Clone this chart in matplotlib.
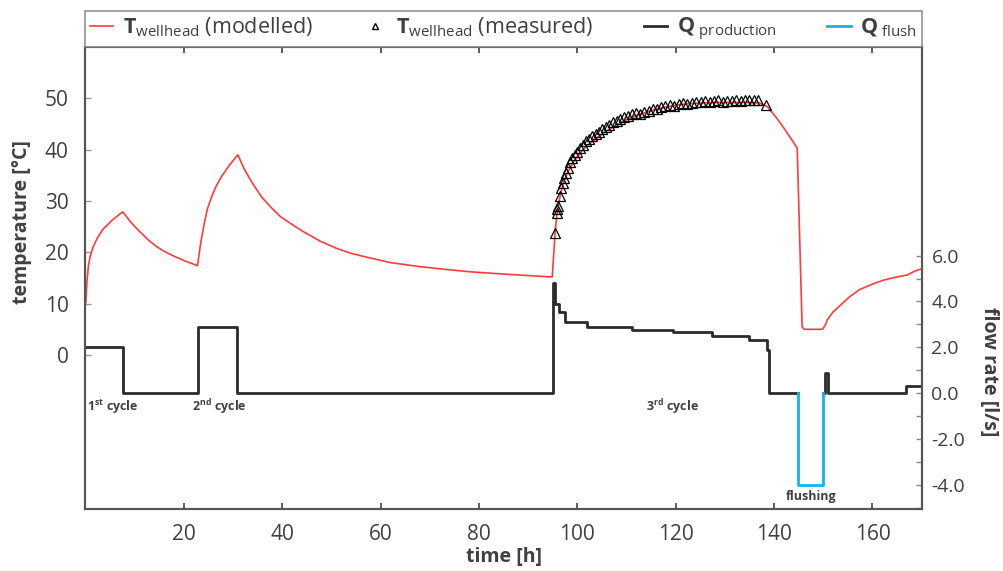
import matplotlib
matplotlib.use("Agg")
import matplotlib.pyplot as plt
import numpy as np
from matplotlib.lines import Line2D

plt.rcParams['font.family'] = ['Open Sans', 'DejaVu Sans']
plt.rcParams['mathtext.fontset'] = 'custom'
plt.rcParams['mathtext.rm'] = 'Open Sans'
plt.rcParams['mathtext.bf'] = 'Open Sans:bold'
plt.rcParams['mathtext.it'] = 'Open Sans:italic'

# modelled wellhead temperature [°C]
t_model = [0.1, 0.3, 0.6, 1.0, 1.6, 2.5, 3.6, 5.5, 7.6, 9.3, 11.1, 12.8, 14.5, 16.2,
           17.9, 20.3, 22.8, 23.4, 24.1, 24.8, 25.7, 26.6, 27.7, 29.3, 31.0,
           32.2, 33.5, 34.7, 35.9, 37.6, 39.6, 41.6, 44.0, 47.7, 51.0, 54.0, 57.9,
           62.0, 68.1, 73.0, 78.3, 86.0, 94.9,
           95.3, 95.5, 95.8, 96.2, 96.7, 97.3, 98.0, 99.0, 100.0, 101.5, 103.0, 105.0,
           107.0, 109.0, 111.0, 113.0, 115.0, 117.0, 119.0, 121.0, 123.0, 125.0,
           128.0, 131.0, 134.0, 137.0, 138.6, 140.5, 142.0, 143.4, 144.7, 145.7, 146.1,
           149.8, 150.4, 150.8, 152.0, 153.5, 155.3, 157.3, 160.0, 162.3, 164.5, 167.1,
           168.5, 170.0]
T_model = [10.2, 14.0, 17.2, 19.3, 21.1, 22.9, 24.5, 26.3, 27.9, 25.8, 24.0, 22.4, 21.1,
           20.1, 19.3, 18.3, 17.4, 21.5, 25.3, 28.4, 30.9, 32.9, 34.8, 37.0, 39.0,
           36.4, 34.2, 32.4, 30.7, 28.9, 27.0, 25.7, 24.2, 22.2, 20.8, 19.8, 18.9,
           18.0, 17.2, 16.7, 16.2, 15.7, 15.2,
           21.0, 24.0, 27.0, 29.5, 31.8, 33.8, 35.5, 37.3, 38.7, 40.3, 41.6, 43.0,
           44.3, 45.4, 46.3, 47.0, 47.6, 48.1, 48.5, 48.8, 49.0, 49.1,
           49.2, 49.2, 49.2, 49.1, 48.4, 46.2, 44.2, 42.2, 40.3, 5.5, 5.0,
           5.0, 5.8, 6.8, 8.4, 9.7, 11.3, 12.7, 13.8, 14.6, 15.1, 15.6,
           16.3, 16.8]

# measured wellhead temperature [°C]
t_meas = [95.5, 95.8, 95.9, 96.1, 96.4, 96.7, 97.0, 97.3, 97.7, 98.1, 98.6, 99.0, 99.5,
          100.0, 100.6, 101.2, 101.8, 102.4, 103.0, 103.7, 104.4, 105.1, 105.8, 106.5,
          107.2, 108.0, 108.7, 109.5, 110.3, 111.1, 111.9, 112.8, 113.6, 114.5, 115.3,
          116.2, 117.0, 117.9, 118.8, 119.7, 120.6, 121.5, 122.4, 123.3, 124.2, 125.1,
          126.0, 126.9, 127.8, 128.7, 129.6, 130.5, 131.4, 132.3, 133.2, 134.1, 135.0,
          135.9, 136.7, 138.4]
T_meas = [23.7, 27.6, 28.5, 29.0, 31.0, 32.5, 33.5, 34.5, 35.5, 36.5, 37.5, 38.3, 39.0,
          39.6, 40.4, 41.0, 41.6, 42.1, 42.6, 43.0, 43.5, 44.0, 44.4, 44.9,
          45.3, 45.6, 46.0, 46.3, 46.6, 46.9, 47.2, 47.0, 47.4, 47.6, 48.0,
          47.9, 48.3, 48.5, 48.7, 48.6, 48.9, 49.0, 48.8, 49.1, 49.3, 49.2,
          49.5, 49.3, 49.4, 49.6, 49.3, 49.5, 49.4, 49.6, 49.5, 49.6, 49.7,
          49.6, 49.6, 48.7]

# production flow rate [l/s] (step changes)
t_prod = [0, 7.7, 22.9, 30.8, 95.0, 95.5, 96.2, 97.6, 102.0, 111.1, 119.5, 127.3,
          134.9, 138.6, 139.0, 144.9, 150.0, 150.4, 151.0, 166.9, 170.0]
Q_prod = [2.0, 0.0, 2.9, 0.0, 4.8, 3.9, 3.55, 3.1, 2.9, 2.75, 2.65, 2.5,
          2.3, 1.9, 0.0, np.nan, 0.0, 0.9, 0.0, 0.3, 0.3]

# flushing flow rate [l/s]
t_flush = [144.9, 144.9, 150.0]
Q_flush = [0.0, -4.0, 0.0]

red = '#ff3b3b'
blue = '#12b4ee'
dark = '#2b2b2b'
grey = '#404040'

fig = plt.figure(figsize=(10.04, 5.71), dpi=100)
ax1 = fig.add_axes([0.085, 0.1086, 0.833, 0.8091])
ax2 = ax1.twinx()

ax1.plot(t_model, T_model, color=red, lw=1.2, zorder=3)
ax1.plot(t_meas, T_meas, ls='none', marker='^', ms=6.5, mfc='none', mec='black',
         mew=0.9, zorder=4)

ax2.step(t_prod, Q_prod, where='post', color=dark, lw=2.0)
ax2.step(t_flush, Q_flush, where='post', color=blue, lw=2.0)

ax1.set_xlim(0, 170)
ax1.set_ylim(-30, 60)
ax1.set_yticks([0, 10, 20, 30, 40, 50])
ax1.set_xticks([20, 40, 60, 80, 100, 120, 140, 160])
ax2.set_ylim(-5.05, 15.1)
ax2.set_yticks([-4, -2, 0, 2, 4, 6])
ax2.set_yticks([-5, -3, -1, 1, 3, 5], minor=True)
ax2.set_yticklabels(['%.1f' % v for v in [-4, -2, 0, 2, 4, 6]])

ax1.tick_params(axis='x', direction='in', top=True, length=4, width=1.2,
                color=grey, labelsize=15, labelcolor=grey, pad=11)
ax1.tick_params(axis='y', direction='in', length=4, width=1, color='#999999',
                labelsize=15, labelcolor=grey, pad=12)
ax2.tick_params(axis='y', which='both', direction='in', length=4, width=1,
                color='#888888', labelsize=14, labelcolor=grey, pad=7)

for ax in (ax1, ax2):
    for s in ax.spines.values():
        s.set_color('#555555')
        s.set_linewidth(1.5)

ax1.set_xlabel('time [h]', fontsize=14, fontweight='bold', color=grey, labelpad=1)
ax1.set_ylabel('temperature [°C]', fontsize=14, fontweight='bold', color=grey)
ax1.yaxis.set_label_coords(-0.064, 0.62)
ax2.set_ylabel('flow rate [l/s]', fontsize=14, fontweight='bold', color=grey,
               rotation=270, va='bottom')
ax2.yaxis.set_label_coords(1.069, 0.297)

# cycle labels
ax2.text(0.4, -0.6, r'1$^{\mathbf{st}}$ cycle', fontsize=9, fontweight='bold',
         color=grey, va='center', ha='left')
ax2.text(21.7, -0.6, r'2$^{\mathbf{nd}}$ cycle', fontsize=9, fontweight='bold',
         color=grey, va='center', ha='left')
ax2.text(114.0, -0.6, r'3$^{\mathbf{rd}}$ cycle', fontsize=9, fontweight='bold',
         color=grey, va='center', ha='left')
ax2.text(147.6, -4.5, 'flushing', fontsize=9, fontweight='bold',
         color=grey, va='center', ha='center')

handles = [Line2D([], [], color=red, lw=1.2),
           Line2D([], [], ls='none', marker='^', ms=5, mfc='none', mec='black'),
           Line2D([], [], color=dark, lw=2),
           Line2D([], [], color=blue, lw=2)]
labels = [r'$\mathbf{T}_{\mathrm{wellhead}}$ (modelled)',
          r'$\mathbf{T}_{\mathrm{wellhead}}$ (measured)',
          r'$\mathbf{Q}_{\ \mathrm{production}}$',
          r'$\mathbf{Q}_{\ \mathrm{flush}}$']
leg = ax1.legend(handles, labels, loc='lower left', bbox_to_anchor=(0, 1, 1, 0.08),
                 mode='expand', ncol=4, borderaxespad=0, frameon=True,
                 fancybox=False, edgecolor='#777777', fontsize=15.5,
                 handlelength=1.1, handletextpad=0.45, borderpad=0.2)
leg.get_frame().set_linewidth(1.2)
for t in leg.get_texts():
    t.set_color(grey)
# put legend on top axes so it is not hidden
leg.remove()
ax2.add_artist(leg)

fig.savefig('out.png', dpi=100)
